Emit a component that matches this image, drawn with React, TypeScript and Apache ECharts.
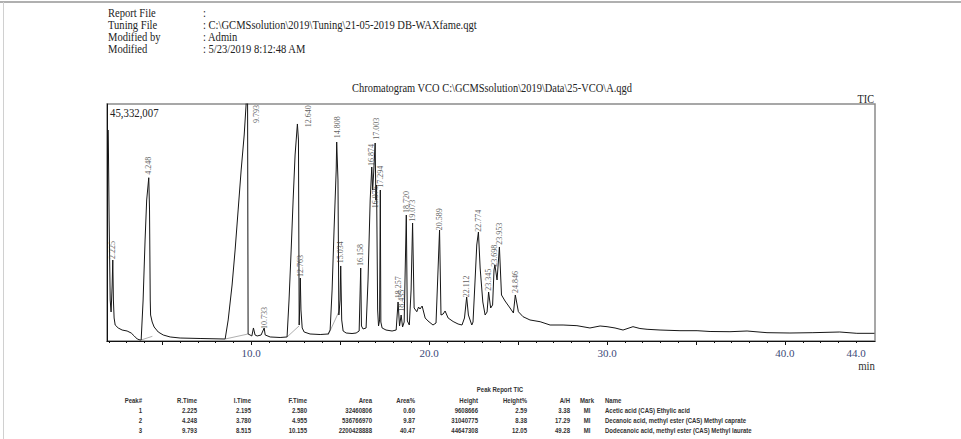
import React, { useEffect, useRef } from "react";
import * as echarts from "echarts";

// ---- header / titles ----
const headerLabels = ["Report File", "Tuning File", "Modified by", "Modified"];
const headerValues = [
  ":",
  ": C:\\GCMSsolution\\2019\\Tuning\\21-05-2019 DB-WAXfame.qgt",
  ": Admin",
  ": 5/23/2019 8:12:48 AM",
];
const chartTitle = "Chromatogram VCO C:\\GCMSsolution\\2019\\Data\\25-VCO\\A.qgd";
const channelName = "TIC";
const maxIntensityLabel = "45,332,007";
const yMaxMillions = 45.332007;
const xUnit = "min";

// ---- axis ticks ----
const xLabelTicks = [10, 20, 30, 40, 44];
const xMajorTicks = [5, 10, 15, 20, 25, 30, 35, 40];
const xMinorTicks = [2, 3, 4, 5, 6, 7, 8, 9, 10, 11, 12, 13, 14, 15, 16, 17, 18, 19, 20, 21, 22, 23, 24, 25, 26, 27, 28, 29, 30, 31, 32, 33, 34, 35, 36, 37, 38, 39, 40, 41, 42, 43, 44];

// ---- chromatogram trace (time in min, intensity in millions of counts) ----
const traceTime = [
  1.97, 2.02, 2.08, 2.13, 2.19, 2.225, 2.26, 2.3, 2.36, 2.53, 2.75, 3.03, 3.26, 3.43, 3.6, 3.76,
  3.82, 3.93, 4.04, 4.13, 4.248, 4.29, 4.33, 4.35, 4.44, 4.55, 4.78, 5.06, 5.45, 6.01, 7.13, 8.54,
  8.71, 8.93, 9.1, 9.27, 9.44, 9.61, 9.75, 9.8, 9.83, 9.94, 10.04, 10.13, 10.22, 10.34, 10.56, 10.733,
  10.79, 11.07, 11.63, 12.02, 12.13, 12.25, 12.36, 12.47, 12.6, 12.66, 12.7, 12.74, 12.763, 12.8, 12.87, 12.98,
  13.31, 13.88, 14.33, 14.44, 14.55, 14.66, 14.78, 14.808, 14.88, 14.93, 15.0, 15.034, 15.09, 15.17, 15.34, 15.67,
  15.9, 16.07, 16.158, 16.2, 16.29, 16.46, 16.57, 16.69, 16.78, 16.83, 16.88, 16.97, 17.01, 17.05, 17.11, 17.16,
  17.22, 17.26, 17.29, 17.36, 17.58, 17.92, 18.15, 18.257, 18.34, 18.43, 18.51, 18.6, 18.72, 18.78, 18.89, 18.99,
  19.073, 19.16, 19.31, 19.41, 19.49, 19.61, 19.78, 19.94, 20.22, 20.39, 20.589, 20.67, 20.79, 20.9, 21.07, 21.35,
  21.63, 21.85, 21.99, 22.112, 22.21, 22.4, 22.47, 22.58, 22.68, 22.774, 22.87, 23.02, 23.15, 23.26, 23.345, 23.46,
  23.57, 23.65, 23.7, 23.82, 23.953, 24.07, 24.27, 24.55, 24.74, 24.846, 25.02, 25.28, 25.67, 26.24, 26.8, 27.53,
  28.31, 29.04, 29.61, 30.0, 30.45, 30.9, 31.46, 31.85, 32.25, 32.98, 34.1, 35.06, 35.79, 36.91, 37.87, 38.99,
  40.28, 41.57, 43.08, 44.04, 45.03,
];
const traceSignal = [
  40.36, 23.14, 7.84, 5.55, 10.71, 15.49, 7.84, 4.4, 3.06, 2.49, 2.1, 1.91, 1.53, 0.96, 0.38, 0.19,
  0.19, 7.84, 19.32, 26.97, 31.23, 25.06, 7.84, 4.97, 3.63, 2.68, 1.72, 1.15, 0.77, 0.57, 0.48, 0.38,
  4.02, 10.71, 17.41, 25.06, 32.71, 39.4, 47.0, 47.0, 1.34, 1.15, 0.96, 2.49, 1.15, 0.96, 1.15, 2.49,
  1.15, 0.77, 0.67, 0.77, 7.84, 17.41, 26.97, 35.58, 41.51, 38.45, 3.06, 7.84, 12.05, 5.93, 2.49, 1.72,
  1.34, 1.24, 1.34, 2.1, 9.75, 21.23, 32.71, 38.06, 30.79, 4.97, 7.84, 14.35, 4.02, 1.91, 1.53, 1.43,
  1.53, 1.91, 13.96, 2.87, 2.3, 2.49, 11.67, 26.97, 33.28, 28.88, 31.75, 37.87, 26.97, 29.84, 5.93, 2.87,
  4.02, 28.88, 3.63, 2.49, 2.1, 1.91, 2.1, 7.46, 2.87, 4.97, 2.68, 3.63, 24.1, 3.83, 3.06, 9.75,
  22.57, 6.31, 5.6, 6.5, 6.12, 6.69, 4.4, 3.83, 3.06, 3.44, 21.23, 4.97, 5.16, 5.74, 4.4, 3.73,
  3.25, 3.06, 4.4, 8.42, 4.97, 3.06, 3.63, 11.28, 18.36, 20.85, 13.96, 7.46, 4.97, 5.55, 9.37, 6.31,
  6.89, 13.58, 14.54, 11.67, 17.98, 8.8, 7.65, 6.31, 5.36, 8.8, 5.6, 4.65, 4.02, 3.69, 3.06, 3.06,
  2.93, 2.49, 2.87, 2.74, 2.49, 2.1, 2.74, 2.39, 2.24, 2.1, 1.97, 1.97, 1.82, 1.78, 1.91, 1.59,
  1.53, 1.59, 1.72, 1.47, 1.47,
];

// ---- integration baselines drawn under some peaks (start/end time and signal) ----
const baselineStartTime = [3.82, 8.54, 12.02, 14.33];
const baselineStartSignal = [0.19, 0.38, 0.77, 1.15];
const baselineEndTime = [4.45, 9.83, 12.7, 14.93];
const baselineEndSignal = [0.9, 1.34, 2.9, 5.6];

// ---- retention-time labels ----
const peakLabelText = [
  "2.225", "4.248", "9.793", "10.733", "12.640", "12.763", "14.808", "15.034", "16.158", "16.874", "16.976", "17.003",
  "17.294", "18.257", "18.435", "18.720", "19.073", "20.589", "22.112", "22.774", "23.345", "23.698", "23.953", "24.846",
];
const peakLabelTime = [
  2.225, 4.248, 10.28, 10.733, 13.2, 12.763, 14.84, 15.05, 16.16, 16.77, 17.0, 17.06,
  17.27, 18.257, 18.43, 18.72, 19.073, 20.589, 22.112, 22.774, 23.345, 23.7, 23.953, 24.85,
];
const peakLabelSignal = [
  15.5, 31.6, 41.5, 2.1, 40.7, 12.05, 38.6, 14.7, 14.15, 33.3, 25.2, 38.3,
  29.1, 8.0, 5.4, 24.3, 22.6, 21.0, 8.2, 20.7, 9.4, 14.0, 18.2, 9.0,
];

// ---- peak report table ----
const tableTitle = "Peak Report TIC";
const tableHeaders = ["Peak#", "R.Time", "I.Time", "F.Time", "Area", "Area%", "Height", "Height%", "A/H", "Mark", "Name"];
const peakNo = ["1", "2", "3"];
const rTime = ["2.225", "4.248", "9.793"];
const iTime = ["2.195", "3.780", "8.515"];
const fTime = ["2.580", "4.955", "10.155"];
const areaVal = ["32460806", "536766970", "2200428888"];
const areaPct = ["0.60", "9.87", "40.47"];
const heightVal = ["9608666", "31040775", "44647308"];
const heightPct = ["2.59", "8.38", "12.05"];
const ahVal = ["3.38", "17.29", "49.28"];
const markVal = ["MI", "MI", "MI"];
const compoundName = [
  "Acetic acid (CAS) Ethylic acid",
  "Decanoic acid, methyl ester (CAS) Methyl caprate",
  "Dodecanoic acid, methyl ester (CAS) Methyl laurate",
];

const SERIF = "'Liberation Serif', 'Times New Roman', serif";
const SANS = "'Liberation Sans Narrow', 'Liberation Sans', Arial, sans-serif";

function txt(x: number, y: number, text: string, o: any = {}) {
  return {
    type: "text",
    x,
    y,
    scaleX: o.sx ?? 1,
    silent: true,
    z: 50,
    style: {
      text,
      fill: o.color ?? "#222",
      fontSize: o.size ?? 12,
      fontFamily: o.family ?? SERIF,
      fontWeight: o.weight ?? "normal",
      align: o.align ?? "left",
      verticalAlign: "middle",
    },
  };
}

export default function App() {
  const ref = useRef<HTMLDivElement>(null);
  useEffect(() => {
    document.body.style.margin = "0";
    const chart = echarts.init(ref.current!, null, { renderer: "svg" });

    const g: any[] = [];
    // page frame lines
    g.push({ type: "line", silent: true, shape: { x1: 0, y1: 2, x2: 961, y2: 2 }, style: { stroke: "#b0b0b0", lineWidth: 2 } });
    g.push({ type: "line", silent: true, shape: { x1: 3.5, y1: 2, x2: 3.5, y2: 439 }, style: { stroke: "#d0d0d0", lineWidth: 1 } });
    // header block
    headerLabels.forEach((s, i) => g.push(txt(108, 12.5 + 12.2 * i, s, { sx: 0.88 })));
    headerValues.forEach((s, i) => g.push(txt(203, 12.5 + 12.2 * i, s, { sx: 0.88 })));
    g.push({ type: "rect", silent: true, z: 60, shape: { x: 100, y: 3, width: 300, height: 6 }, style: { fill: "#fff" } });
    // title and annotations
    g.push(txt(492, 88, chartTitle, { align: "center", sx: 0.87 }));
    g.push(txt(874, 99, channelName, { align: "right", sx: 0.85 }));
    g.push(txt(110, 112.5, maxIntensityLabel, { sx: 0.9 }));
    g.push(txt(875, 366, xUnit, { align: "right", sx: 0.9, color: "#333" }));
    // table
    const TS = 7.8;
    const tOpt = (align: string) => ({ family: SANS, size: TS, weight: "bold", color: "#333", sx: 0.77, align });
    g.push(txt(500, 389.5, tableTitle, tOpt("center")));
    const colX = [142, 197, 251, 307, 372, 415, 478, 527, 570, 580, 605];
    const colAlign = ["right", "right", "right", "right", "right", "right", "right", "right", "right", "left", "left"];
    tableHeaders.forEach((h, i) => g.push(txt(colX[i], 400, h, tOpt(colAlign[i]))));
    const cols = [peakNo, rTime, iTime, fTime, areaVal, areaPct, heightVal, heightPct, ahVal, markVal, compoundName];
    for (let r = 0; r < peakNo.length; r++) {
      cols.forEach((c, i) => {
        const x = i === 9 ? 587 : colX[i];
        const al = i === 9 ? "center" : colAlign[i];
        g.push(txt(x, 410.5 + 9.7 * r, c[r], tOpt(al)));
      });
    }

    const baselineData: any[] = [];
    baselineStartTime.forEach((t, i) => {
      baselineData.push([t, baselineStartSignal[i]]);
      baselineData.push([baselineEndTime[i], baselineEndSignal[i]]);
      baselineData.push(null);
    });

    const option: any = {
      animation: false,
      backgroundColor: "#fff",
      grid: { left: 107, right: 86, top: 104, bottom: 98, show: true, borderColor: "#8a8a8a", borderWidth: 1.5, backgroundColor: "transparent" },
      xAxis: [
        {
          type: "value",
          min: 1.9,
          max: 45.06,
          axisLine: { show: true, onZero: false, lineStyle: { color: "#111", width: 1 } },
          axisTick: { show: true, customValues: xMajorTicks, length: 4, lineStyle: { color: "#111" } },
          axisLabel: {
            show: true,
            customValues: xLabelTicks,
            formatter: (v: number) => v.toFixed(1),
            color: "#3d4a78",
            fontFamily: SERIF,
            fontSize: 11,
            margin: 6,
          },
          splitLine: { show: false },
        },
        {
          type: "value",
          min: 1.9,
          max: 45.06,
          position: "bottom",
          axisLine: { show: false, onZero: false },
          axisTick: { show: true, customValues: xMinorTicks, length: 2, lineStyle: { color: "#111" } },
          axisLabel: { show: false },
          splitLine: { show: false },
        },
      ],
      yAxis: {
        type: "value",
        min: 0,
        max: yMaxMillions,
        axisLine: { show: true, onZero: false, lineStyle: { color: "#111" } },
        axisTick: { show: false },
        axisLabel: { show: false },
        splitLine: { show: false },
      },
      series: [
        {
          type: "line",
          name: "baseline",
          data: baselineData,
          connectNulls: false,
          showSymbol: false,
          symbol: "none",
          lineStyle: { color: "#9a9a9a", width: 0.8 },
          z: 2,
        },
        {
          type: "line",
          name: channelName,
          data: traceTime.map((t, i) => [t, traceSignal[i]]),
          showSymbol: false,
          symbol: "none",
          clip: true,
          lineStyle: { color: "#161616", width: 1 },
          z: 3,
        },
        {
          type: "scatter",
          name: "labels",
          symbolSize: 0,
          data: peakLabelText.map((s, i) => ({ name: s, value: [peakLabelTime[i], peakLabelSignal[i]] })),
          label: {
            show: true,
            formatter: (p: any) => p.name,
            position: "top",
            distance: 1,
            rotate: 90,
            align: "left",
            verticalAlign: "middle",
            fontFamily: SERIF,
            fontSize: 8,
            color: "#333",
          },
          labelLayout: { hideOverlap: false },
          z: 4,
        },
      ],
      graphic: g,
    };
    chart.setOption(option);
    return () => chart.dispose();
  }, []);
  return <div ref={ref} style={{ width: 961, height: 439 }} />;
}
